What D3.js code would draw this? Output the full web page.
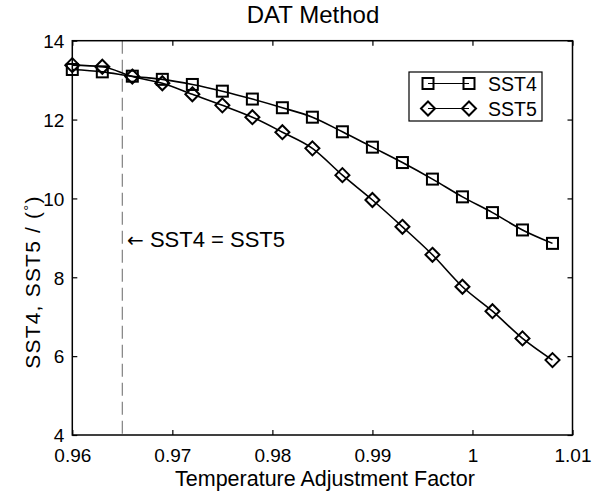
<!DOCTYPE html>
<html>
<head>
<meta charset="utf-8">
<script src="https://cdn.jsdelivr.net/npm/d3@7"></script>
<style>
  html, body { margin: 0; padding: 0; background: #fff; }
  svg { display: block; font-family: "Liberation Sans", Arial, Helvetica, sans-serif; }
</style>
</head>
<body>
<svg id="chart" width="593" height="497"></svg>
<script>
// ---- data ----
const factor = [0.960, 0.963, 0.966, 0.969, 0.972, 0.975, 0.978, 0.981, 0.984,
                0.987, 0.990, 0.993, 0.996, 0.999, 1.002, 1.005, 1.008];
const sst4 = [13.27, 13.21, 13.10, 13.02, 12.89, 12.72, 12.52, 12.30, 12.06,
              11.69, 11.30, 10.91, 10.49, 10.04, 9.64, 9.20, 8.86];
const sst5 = [13.38, 13.34, 13.09, 12.92, 12.64, 12.36, 12.06, 11.68, 11.27,
              10.59, 9.96, 9.28, 8.57, 7.76, 7.14, 6.45, 5.90];
const xTicks = [0.96, 0.97, 0.98, 0.99, 1.00, 1.01];
const xTickLabels = ["0.96", "0.97", "0.98", "0.99", "1", "1.01"];
const yTicks = [4, 6, 8, 10, 12, 14];
const equalPoint = 0.965;
const seriesNames = ["SST4", "SST5"];

// ---- layout ----
const svg = d3.select("#chart");
const L = 72.3, R = 572.5, T = 40.7, B = 435;
const x = d3.scaleLinear().domain([0.96, 1.01]).range([L, R]);
const y = d3.scaleLinear().domain([4, 14]).range([B, T]);

// dashed vertical line
svg.append("line")
  .attr("x1", x(equalPoint)).attr("x2", x(equalPoint))
  .attr("y1", y(14)).attr("y2", y(4))
  .attr("stroke", "#808080").attr("stroke-width", 1.2)
  .attr("stroke-dasharray", "13,6");

// axes with inward ticks
const tickLen = 5;
const gB = svg.append("g").attr("transform", `translate(0,${B})`)
  .call(d3.axisBottom(x).tickValues(xTicks).tickSizeInner(-tickLen).tickSizeOuter(0)
        .tickPadding(14).tickFormat((d, i) => xTickLabels[i]));
const gT = svg.append("g").attr("transform", `translate(0,${T})`)
  .call(d3.axisTop(x).tickValues(xTicks).tickSizeInner(-tickLen).tickSizeOuter(0).tickFormat(""));
const gL = svg.append("g").attr("transform", `translate(${L},0)`)
  .call(d3.axisLeft(y).tickValues(yTicks).tickSizeInner(-tickLen).tickSizeOuter(0)
        .tickPadding(8).tickFormat(d3.format("d")));
const gR = svg.append("g").attr("transform", `translate(${R},0)`)
  .call(d3.axisRight(y).tickValues(yTicks).tickSizeInner(-tickLen).tickSizeOuter(0).tickFormat(""));
[gB, gT, gL, gR].forEach(g => {
  g.select(".domain").remove();
  g.selectAll(".tick line").attr("stroke", "#000").attr("stroke-width", 1.2);
  g.selectAll(".tick text").attr("fill", "#000").attr("font-size", 19)
    .attr("font-family", "Liberation Sans, Arial, sans-serif");
});
gB.selectAll(".tick text").attr("dy", "0.71em");
gL.selectAll(".tick text").attr("dy", "0.36em");

// frame
svg.append("rect").attr("x", L).attr("y", T).attr("width", R - L).attr("height", B - T)
  .attr("fill", "none").attr("stroke", "#000").attr("stroke-width", 1.5);

// series
const line = d3.line().x(d => x(d[0])).y(d => y(d[1])).curve(d3.curveMonotoneX);
const data4 = factor.map((f, i) => [f, sst4[i]]);
const data5 = factor.map((f, i) => [f, sst5[i]]);

function square(g, cx, cy) {
  g.append("rect").attr("x", cx - 5.5).attr("y", cy - 5.5).attr("width", 11).attr("height", 11)
    .attr("fill", "none").attr("stroke", "#000").attr("stroke-width", 2);
}
function diamond(g, cx, cy) {
  const r = 7;
  g.append("path").attr("d", `M${cx},${cy - r}L${cx + r},${cy}L${cx},${cy + r}L${cx - r},${cy}Z`)
    .attr("fill", "none").attr("stroke", "#000").attr("stroke-width", 2);
}

svg.append("path").datum(data4).attr("d", line).attr("fill", "none")
  .attr("stroke", "#000").attr("stroke-width", 1.6);
svg.append("path").datum(data5).attr("d", line).attr("fill", "none")
  .attr("stroke", "#000").attr("stroke-width", 1.6);
const m4 = svg.append("g"), m5 = svg.append("g");
data4.forEach(d => square(m4, x(d[0]), y(d[1])));
data5.forEach(d => diamond(m5, x(d[0]), y(d[1])));

// legend
const lg = svg.append("g");
lg.append("rect").attr("x", 409).attr("y", 72).attr("width", 133).attr("height", 49)
  .attr("fill", "#fff").attr("stroke", "#000").attr("stroke-width", 1.2);
[[83.5, square], [108.5, diamond]].forEach(([yy, fn], i) => {
  lg.append("line").attr("x1", 428).attr("x2", 469).attr("y1", yy).attr("y2", yy)
    .attr("stroke", "#000").attr("stroke-width", 1.2);
  fn(lg, 428, yy); fn(lg, 469, yy);
  lg.append("text").attr("x", 488).attr("y", yy).attr("dy", "0.36em")
    .attr("font-size", 19.5).text(seriesNames[i]);
});

// annotation
const ann = svg.append("text").attr("x", 127).attr("y", 247).attr("font-size", 22);
ann.append("tspan").attr("font-family", "DejaVu Sans").attr("font-size", 20).text("\u2190");
ann.append("tspan").text(" SST4 = SST5");

// title & labels
svg.append("text").attr("x", 313).attr("y", 23).attr("text-anchor", "middle")
  .attr("font-size", 24).text("DAT Method");
svg.append("text").attr("x", 325).attr("y", 486).attr("text-anchor", "middle")
  .attr("font-size", 21.5).text("Temperature Adjustment Factor");
const yl = svg.append("text").attr("transform", "translate(40,282) rotate(-90)")
  .attr("text-anchor", "middle").attr("font-size", 21).attr("letter-spacing", 1.2);
yl.append("tspan").text("SST4, SST5 / (");
yl.append("tspan").attr("font-size", 15).attr("dy", -6).text("\u00b0");
yl.append("tspan").attr("dy", 6).text(")");
</script>
</body>
</html>
